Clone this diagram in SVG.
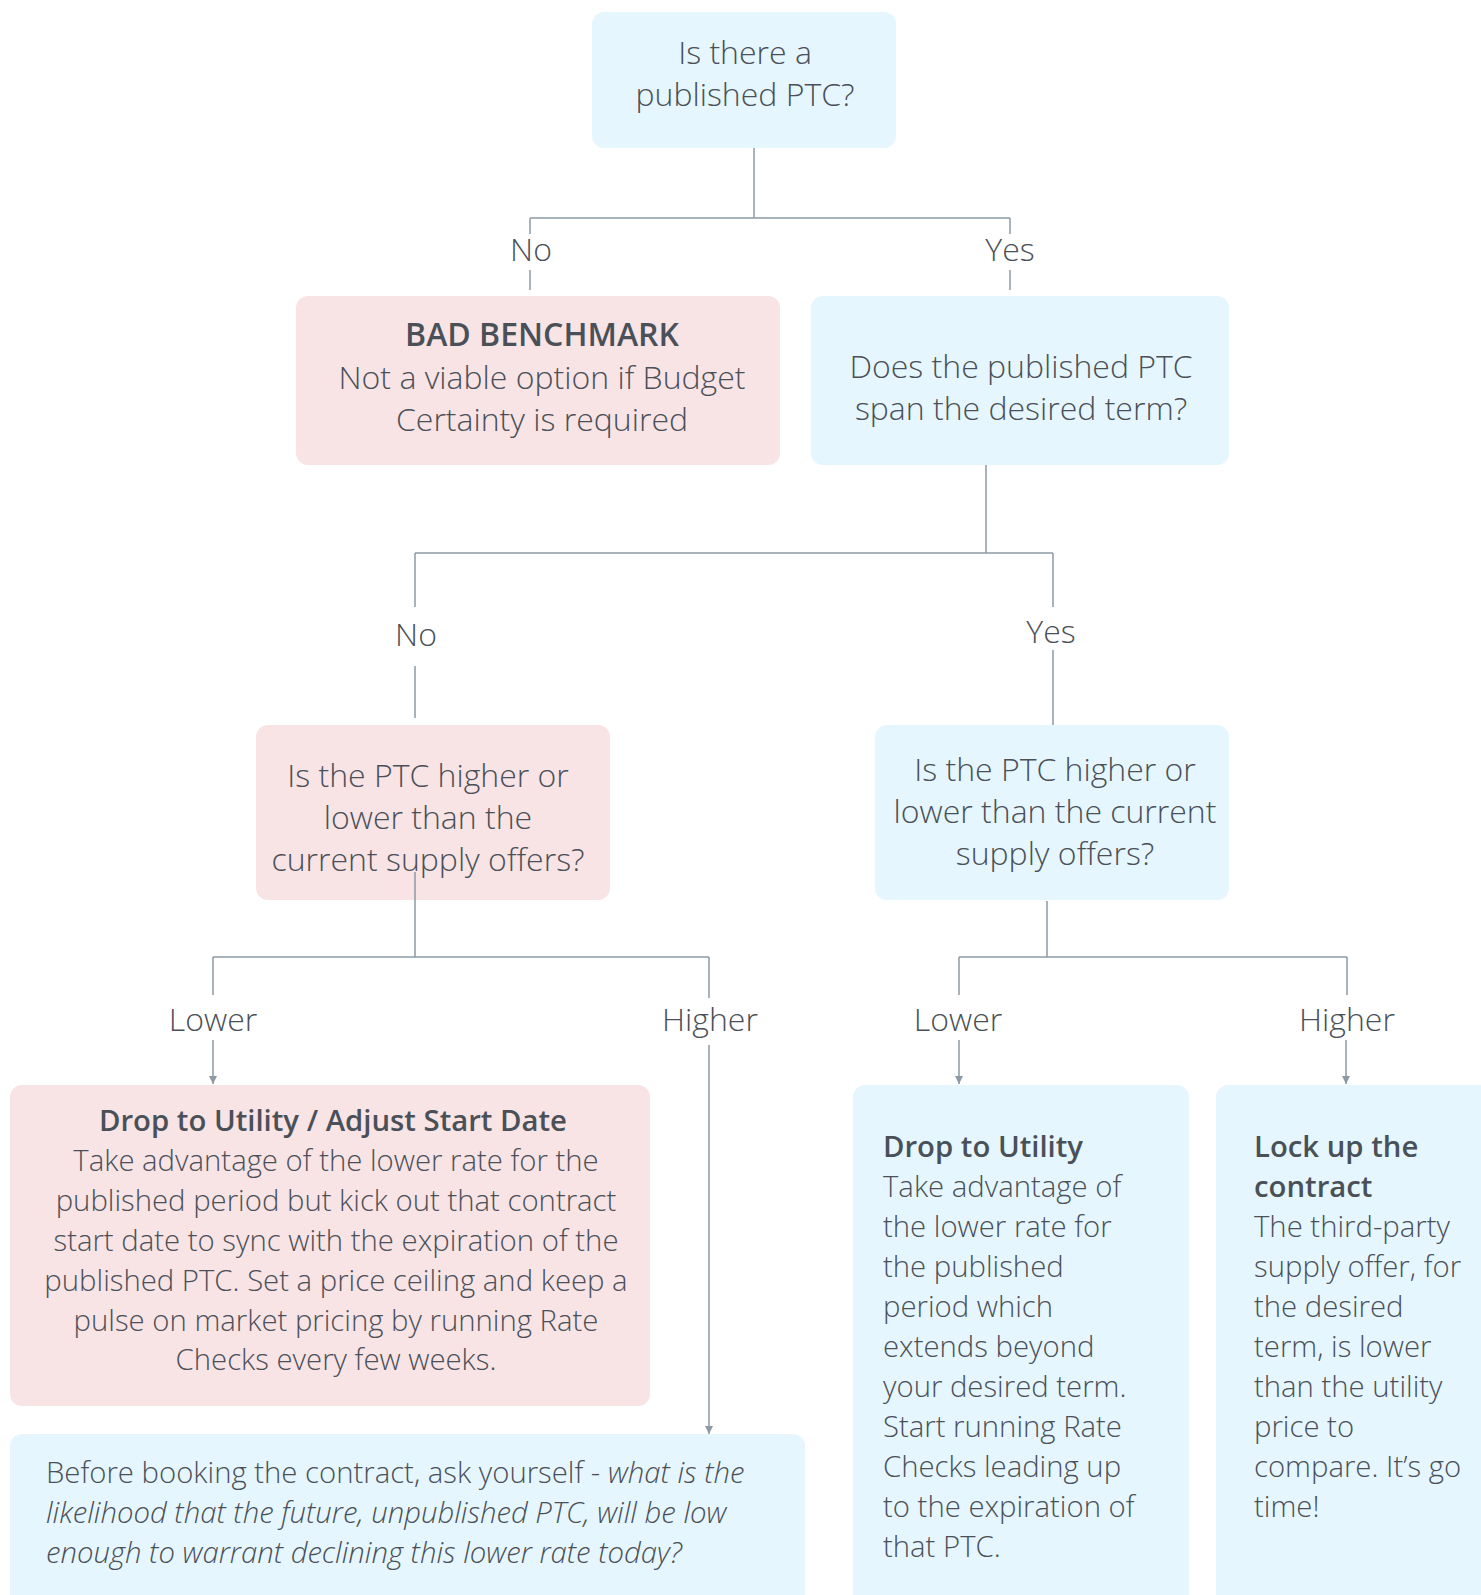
<svg xmlns="http://www.w3.org/2000/svg" width="1481" height="1595" viewBox="0 0 1481 1595">
<defs>
<style>
.blue{fill:#e6f6fe}
.pink{fill:#f8e3e5}
text{font-family:"Open Sans","Noto Sans","Liberation Sans",sans-serif;font-weight:300;fill:#4a5058}
.t30{font-size:32px}
.t28{font-size:29.3px}
.b{font-weight:600}
.c{text-anchor:middle}
.i{font-style:italic}
.ln{stroke:#8d9aa6;stroke-width:1.5;fill:none}
</style>
<marker id="ah" viewBox="0 0 8 8" refX="8" refY="4" markerWidth="8" markerHeight="8" markerUnits="userSpaceOnUse" orient="auto">
<path d="M0,0 L8,4 L0,8 Z" fill="#8d9aa6"/>
</marker>
</defs>
<rect width="1481" height="1595" fill="#ffffff"/>

<g id="q1">
<rect class="blue" x="592" y="12" width="304" height="136" rx="12"/>
<text class="t30 c" x="745" y="64">Is there a</text>
<text class="t30 c" x="745" y="106">published PTC?</text>
</g>

<g id="bad">
<rect class="pink" x="296" y="296" width="484" height="169" rx="12"/>
<text class="t30 c b" x="542" y="346">BAD BENCHMARK</text>
<text class="t30 c" x="542" y="389">Not a viable option if Budget</text>
<text class="t30 c" x="542" y="431">Certainty is required</text>
</g>

<g id="q2">
<rect class="blue" x="811" y="296" width="418" height="169" rx="12"/>
<text class="t30 c" x="1021" y="378">Does the published PTC</text>
<text class="t30 c" x="1021" y="420">span the desired term?</text>
</g>

<g id="q3">
<rect class="pink" x="256" y="725" width="354" height="175" rx="12"/>
<text class="t30 c" x="428" y="787">Is the PTC higher or</text>
<text class="t30 c" x="428" y="829">lower than the</text>
<text class="t30 c" x="428" y="871">current supply offers?</text>
</g>

<g id="q4">
<rect class="blue" x="875" y="725" width="354" height="175" rx="12"/>
<text class="t30 c" x="1055" y="781">Is the PTC higher or</text>
<text class="t30 c" x="1055" y="823">lower than the current</text>
<text class="t30 c" x="1055" y="865">supply offers?</text>
</g>

<g id="adjust">
<rect class="pink" x="10" y="1085" width="640" height="321" rx="12"/>
<text class="t28 c b" x="333" y="1131">Drop to Utility / Adjust Start Date</text>
<text class="t28 c" x="336" y="1171">Take advantage of the lower rate for the</text>
<text class="t28 c" x="336" y="1211">published period but kick out that contract</text>
<text class="t28 c" x="336" y="1251">start date to sync with the expiration of the</text>
<text class="t28 c" x="336" y="1291">published PTC. Set a price ceiling and keep a</text>
<text class="t28 c" x="336" y="1331">pulse on market pricing by running Rate</text>
<text class="t28 c" x="336" y="1370">Checks every few weeks.</text>
</g>

<g id="before">
<rect class="blue" x="10" y="1434" width="795" height="180" rx="12"/>
<text class="t28" x="46" y="1483">Before booking the contract, ask yourself - <tspan class="i">what is the</tspan></text>
<text class="t28 i" x="46" y="1523">likelihood that the future, unpublished PTC, will be low</text>
<text class="t28 i" x="46" y="1563">enough to warrant declining this lower rate today?</text>
</g>

<g id="drop">
<rect class="blue" x="853" y="1085" width="336" height="530" rx="12"/>
<text class="t28 b" x="883" y="1157">Drop to Utility</text>
<text class="t28" x="883" y="1197">Take advantage of</text>
<text class="t28" x="883" y="1237">the lower rate for</text>
<text class="t28" x="883" y="1277">the published</text>
<text class="t28" x="883" y="1317">period which</text>
<text class="t28" x="883" y="1357">extends beyond</text>
<text class="t28" x="883" y="1397">your desired term.</text>
<text class="t28" x="883" y="1437">Start running Rate</text>
<text class="t28" x="883" y="1477">Checks leading up</text>
<text class="t28" x="883" y="1517">to the expiration of</text>
<text class="t28" x="883" y="1557">that PTC.</text>
</g>

<g id="lock">
<rect class="blue" x="1216" y="1085" width="280" height="530" rx="12"/>
<text class="t28 b" x="1254" y="1157">Lock up the</text>
<text class="t28 b" x="1254" y="1197">contract</text>
<text class="t28" x="1254" y="1237">The third-party</text>
<text class="t28" x="1254" y="1277">supply offer, for</text>
<text class="t28" x="1254" y="1317">the desired</text>
<text class="t28" x="1254" y="1357">term, is lower</text>
<text class="t28" x="1254" y="1397">than the utility</text>
<text class="t28" x="1254" y="1437">price to</text>
<text class="t28" x="1254" y="1477">compare. It’s go</text>
<text class="t28" x="1254" y="1517">time!</text>
</g>

<g id="connectors">
<path class="ln" d="M754,148 V218 M530,218 H1010 M530,218 V234 M530,270 V290 M1010,218 V234 M1010,270 V290"/>
<path class="ln" d="M986,465 V553 M415,553 H1053 M415,553 V607 M415,666 V718 M1053,553 V607 M1053,650 V725"/>
<path class="ln" d="M415,872 V957 M213,957 H709 M213,957 V995 M709,957 V998"/>
<path class="ln" d="M1047,901 V957 M959,957 H1347 M959,957 V995 M1347,957 V995"/>
<path class="ln" d="M213,1040 V1084" marker-end="url(#ah)"/>
<path class="ln" d="M709,1045 V1434" marker-end="url(#ah)"/>
<path class="ln" d="M959,1040 V1084" marker-end="url(#ah)"/>
<path class="ln" d="M1346,1040 V1084" marker-end="url(#ah)"/>
<text class="t30 c" x="531" y="261">No</text>
<text class="t30 c" x="1010" y="261">Yes</text>
<text class="t30 c" x="416" y="646">No</text>
<text class="t30 c" x="1051" y="643">Yes</text>
<text class="t30 c" x="213" y="1031">Lower</text>
<text class="t30 c" x="710" y="1031">Higher</text>
<text class="t30 c" x="958" y="1031">Lower</text>
<text class="t30 c" x="1347" y="1031">Higher</text>
</g>
</svg>
